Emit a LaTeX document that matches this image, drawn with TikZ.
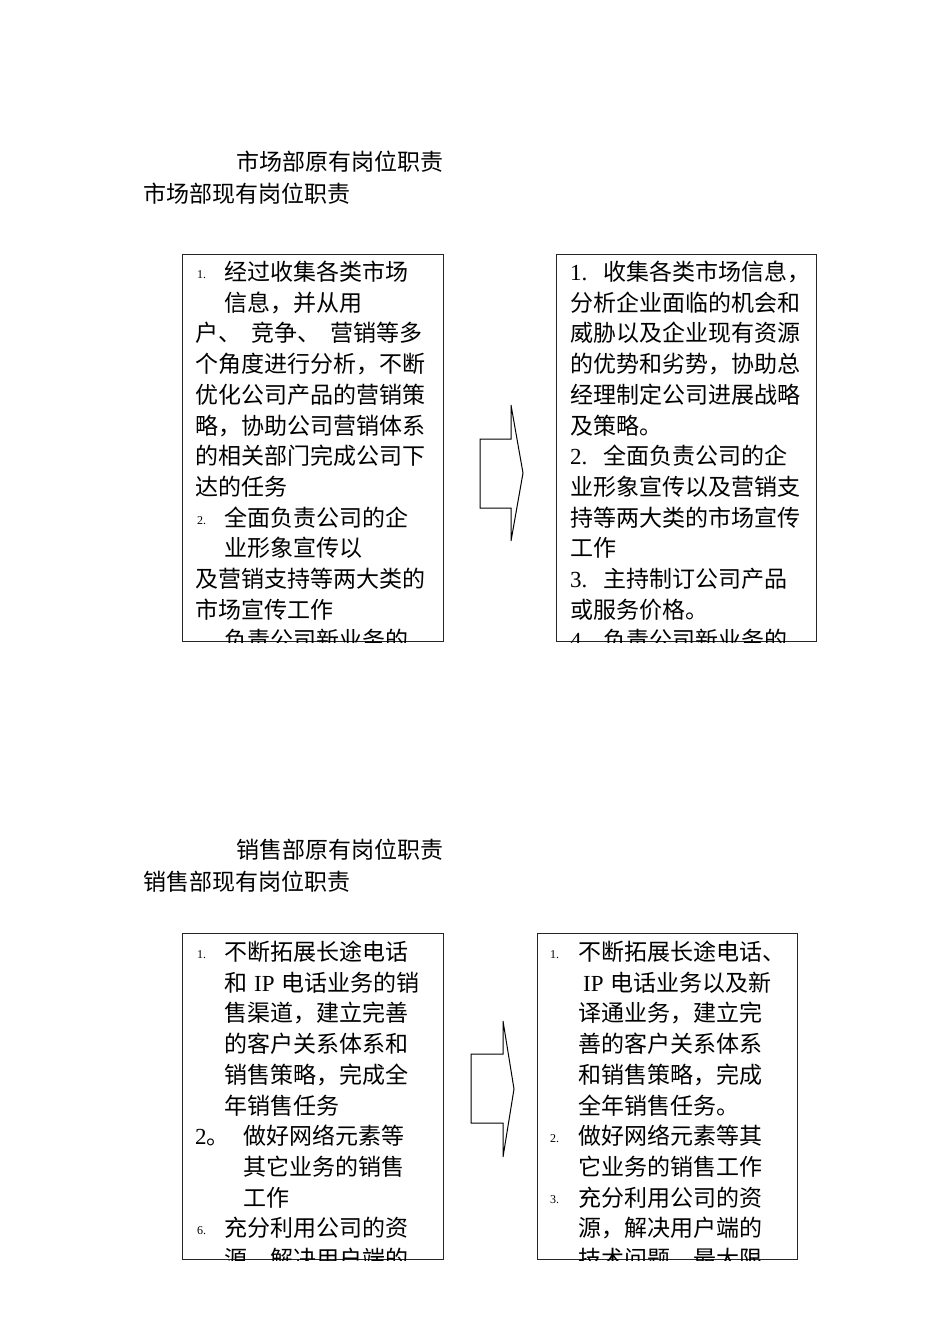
\documentclass[tikz,border=0pt]{standalone}
\usepackage{fontspec}
\setmainfont{Noto Sans CJK SC}
\newfontfamily\numfont{Liberation Serif}
\begin{document}
\begin{tikzpicture}[x=1pt,y=-1pt,
  txt/.style={anchor=base west,inner sep=0pt,font=\fontsize{23}{23}\selectfont},
  smallnum/.style={anchor=base west,inner sep=0pt,font=\numfont\fontsize{12}{12}\selectfont},
  bignum/.style={anchor=base west,inner sep=0pt,font=\numfont\fontsize{23}{23}\selectfont},
  frame/.style={draw=black!85,line width=1.2pt,inner sep=0pt,anchor=north west},
  blockarrow/.style={draw=black,line width=1pt,line join=miter}]
\useasboundingbox[fill=white] (0,0) rectangle (950,1344);

% ---------- titles ----------
\node[txt] (t1) at (236,170.5) {市场部原有岗位职责};
\node[txt] (t2) at (143,202.5) {市场部现有岗位职责};
\node[txt] (t3) at (236,858.5) {销售部原有岗位职责};
\node[txt] (t4) at (143,890.5) {销售部现有岗位职责};

% ---------- market: old ----------
\node[frame,minimum width=261pt,minimum height=387pt] (mko) at (182,254) {};
\begin{scope}
\clip (mko.north west) rectangle (mko.south east);
\node[smallnum] (mko-n1) at (197,278) {1.};
\node[txt] (mko-1) at (224,280.5) {经过收集各类市场};
\node[txt] (mko-2) at (224,311.2) {信息，并从用};
\node[txt] (mko-3) at (195,341.9) {户、\hspace{10pt}竞争、\hspace{10pt}营销等多};
\node[txt] (mko-4) at (195,372.6) {个角度进行分析，不断};
\node[txt] (mko-5) at (195,403.3) {优化公司产品的营销策};
\node[txt] (mko-6) at (195,434.0) {略，协助公司营销体系};
\node[txt] (mko-7) at (195,464.7) {的相关部门完成公司下};
\node[txt] (mko-8) at (195,495.4) {达的任务};
\node[smallnum] (mko-n2) at (197,524) {2.};
\node[txt] (mko-9) at (224,526.1) {全面负责公司的企};
\node[txt] (mko-10) at (224,556.8) {业形象宣传以};
\node[txt] (mko-11) at (195,587.5) {及营销支持等两大类的};
\node[txt] (mko-12) at (195,618.2) {市场宣传工作};
\node[txt] (mko-13) at (224,648.9) {负责公司新业务的};
\end{scope}

% ---------- market: new ----------
\node[frame,minimum width=260pt,minimum height=387pt] (mkn) at (556,254) {};
\begin{scope}
\clip (mkn.north west) rectangle (mkn.south east);
\node[bignum] (mkn-n1) at (570,280.5) {1.};
\node[txt] (mkn-1) at (603,280.5) {收集各类市场信息，};
\node[txt] (mkn-2) at (570,311.2) {分析企业面临的机会和};
\node[txt] (mkn-3) at (570,341.9) {威胁以及企业现有资源};
\node[txt] (mkn-4) at (570,372.6) {的优势和劣势，协助总};
\node[txt] (mkn-5) at (570,403.3) {经理制定公司进展战略};
\node[txt] (mkn-6) at (570,434.0) {及策略。};
\node[bignum] (mkn-n2) at (570,464.7) {2.};
\node[txt] (mkn-7) at (603,464.7) {全面负责公司的企};
\node[txt] (mkn-8) at (570,495.4) {业形象宣传以及营销支};
\node[txt] (mkn-9) at (570,526.1) {持等两大类的市场宣传};
\node[txt] (mkn-10) at (570,556.8) {工作};
\node[bignum] (mkn-n3) at (570,587.5) {3.};
\node[txt] (mkn-11) at (603,587.5) {主持制订公司产品};
\node[txt] (mkn-12) at (570,618.2) {或服务价格。};
\node[bignum] (mkn-n4) at (570,648.9) {4.};
\node[txt] (mkn-13) at (603,648.9) {负责公司新业务的};
\end{scope}

% ---------- sales: old ----------
\node[frame,minimum width=261pt,minimum height=326pt] (slo) at (182,933) {};
\begin{scope}
\clip (slo.north west) rectangle (slo.south east);
\node[smallnum] (slo-n1) at (197,958) {1.};
\node[txt] (slo-1) at (224,960.5) {不断拓展长途电话};
\node[txt] (slo-2) at (224,991.2) {和\hspace{7pt}{\numfont IP}\hspace{7pt}电话业务的销};
\node[txt] (slo-3) at (224,1021.9) {售渠道，建立完善};
\node[txt] (slo-4) at (224,1052.6) {的客户关系体系和};
\node[txt] (slo-5) at (224,1083.3) {销售策略，完成全};
\node[txt] (slo-6) at (224,1114.0) {年销售任务};
\node[txt] (slo-n2) at (195,1144.7) {{\numfont 2}。};
\node[txt] (slo-7) at (243,1144.7) {做好网络元素等};
\node[txt] (slo-8) at (243,1175.4) {其它业务的销售};
\node[txt] (slo-9) at (243,1206.1) {工作};
\node[smallnum] (slo-n3) at (197,1234) {6.};
\node[txt] (slo-10) at (224,1236.8) {充分利用公司的资};
\node[txt] (slo-11) at (224,1267.5) {源，解决用户端的};
\end{scope}

% ---------- sales: new ----------
\node[frame,minimum width=260pt,minimum height=326pt] (sln) at (537,933) {};
\begin{scope}
\clip (sln.north west) rectangle (sln.south east);
\node[smallnum] (sln-n1) at (550,958) {1.};
\node[txt] (sln-1) at (578,960.5) {不断拓展长途电话、};
\node[txt] (sln-2) at (583,991.2) {{\numfont IP}\hspace{7pt}电话业务以及新};
\node[txt] (sln-3) at (578,1021.9) {译通业务，建立完};
\node[txt] (sln-4) at (578,1052.6) {善的客户关系体系};
\node[txt] (sln-5) at (578,1083.3) {和销售策略，完成};
\node[txt] (sln-6) at (578,1114.0) {全年销售任务。};
\node[smallnum] (sln-n2) at (550,1142) {2.};
\node[txt] (sln-7) at (578,1144.7) {做好网络元素等其};
\node[txt] (sln-8) at (578,1175.4) {它业务的销售工作};
\node[smallnum] (sln-n3) at (550,1203) {3.};
\node[txt] (sln-9) at (578,1206.1) {充分利用公司的资};
\node[txt] (sln-10) at (578,1236.8) {源，解决用户端的};
\node[txt] (sln-11) at (578,1267.5) {技术问题，最大限};
\end{scope}

% ---------- block arrows ----------
\draw[blockarrow] (480,439) -- (511,439) -- (511,405) -- (523,473) -- (511,541) -- (511,508) -- (480,508) -- cycle;
\draw[blockarrow] (471,1054) -- (503,1054) -- (503,1021) -- (514,1089) -- (503,1157) -- (503,1123) -- (471,1123) -- cycle;
\end{tikzpicture}
\end{document}
